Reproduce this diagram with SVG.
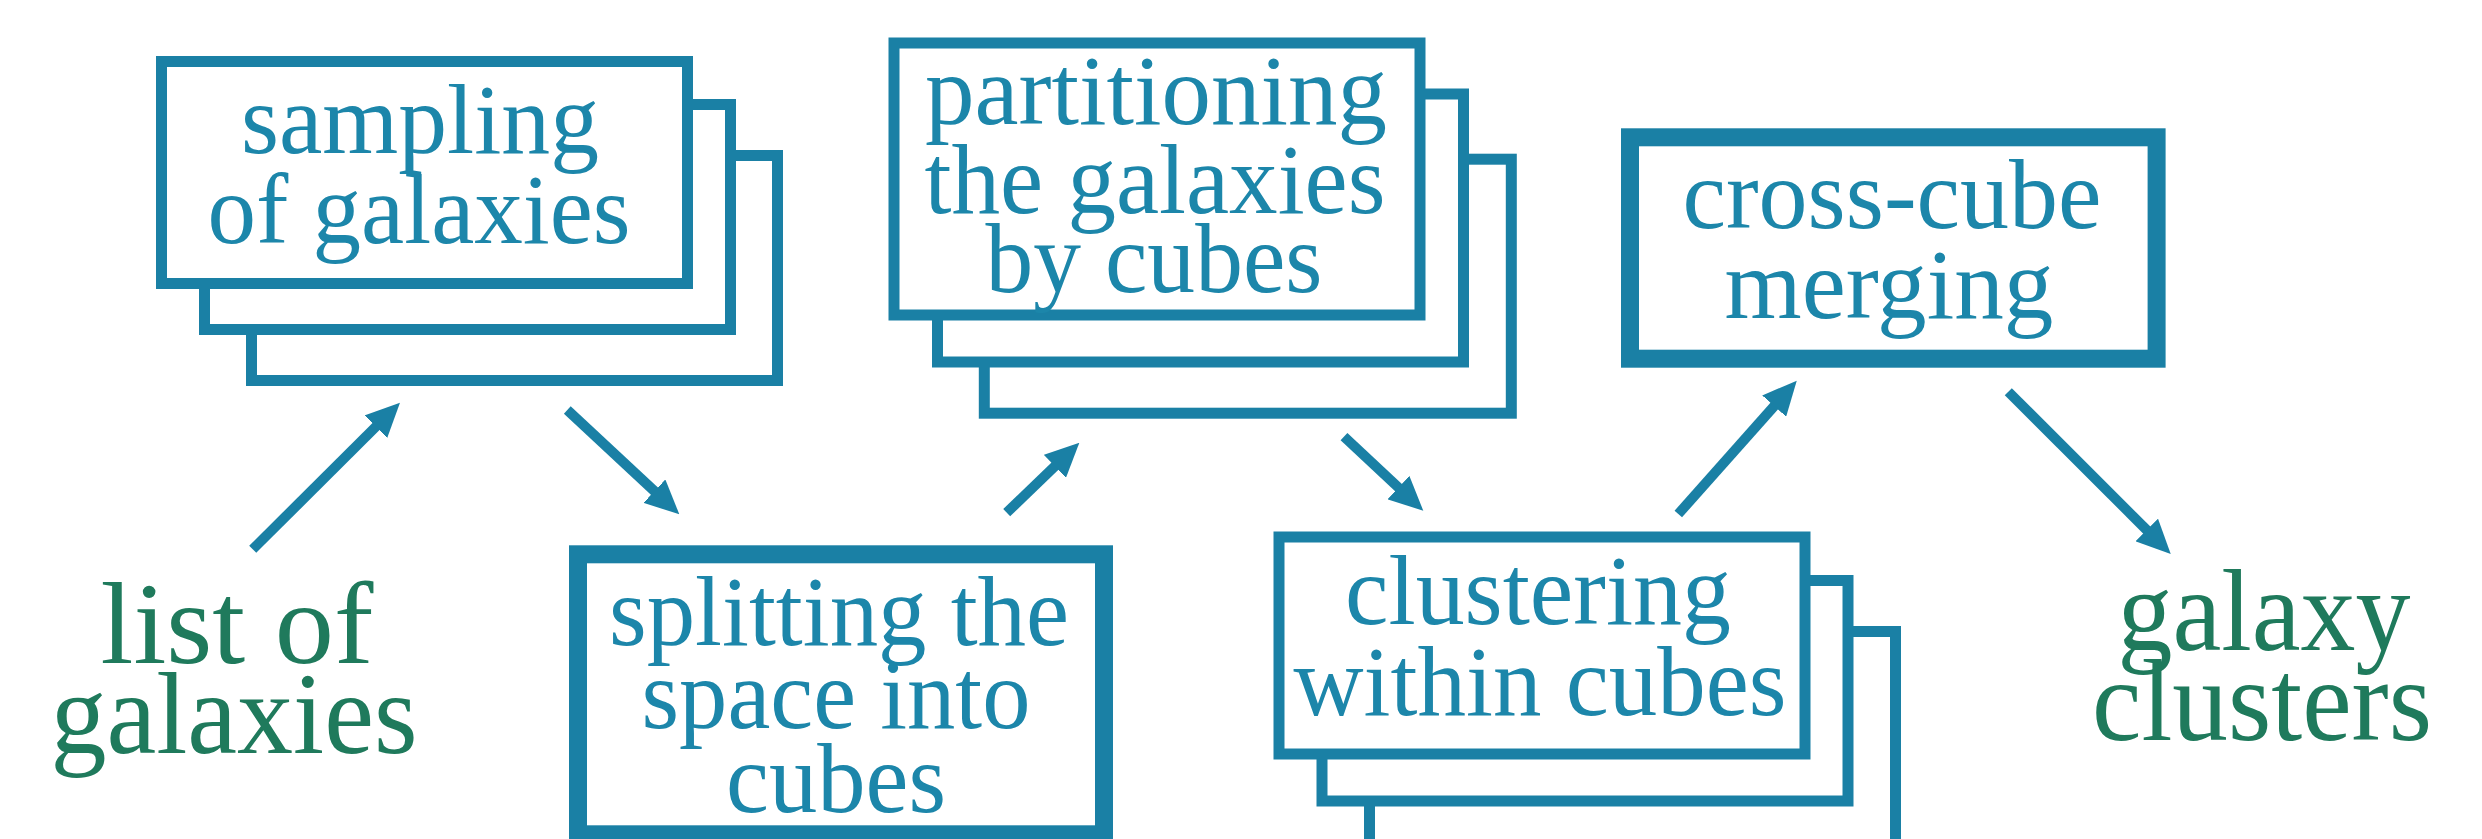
<svg xmlns="http://www.w3.org/2000/svg" width="2482" height="839" viewBox="0 0 2482 839" font-family="Liberation Serif">
<style>
.bx{fill:#fff;stroke:#1a80a5;stroke-width:11}
.bxt{fill:#fff;stroke:#1a80a5;stroke-width:18}
.t{font-size:100px;fill:#1c86aa;text-anchor:middle}
.g{font-size:116px;fill:#1f7a5c;text-anchor:middle}
.ar{stroke:#1a80a5;stroke-width:10;fill:none;marker-end:url(#ah)}
</style>
<defs>
<marker id="ah" markerUnits="userSpaceOnUse" viewBox="0 0 34 32" markerWidth="34" markerHeight="32" refX="2" refY="16" orient="auto">
<path d="M0,0 L34,16 L0,32 z" fill="#1a80a5"/>
</marker>
</defs>
<rect width="2482" height="839" fill="#fff"/>
<g id="list-of-galaxies">
<text class="g" x="237" y="663" textLength="273" lengthAdjust="spacingAndGlyphs">list of</text>
<text class="g" x="234" y="753" textLength="367" lengthAdjust="spacingAndGlyphs">galaxies</text>
</g>
<g id="sampling">
<rect class="bx" x="251.5" y="155.5" width="526" height="225"/>
<rect class="bx" x="204.5" y="104.5" width="526" height="225"/>
<rect class="bx" x="161.5" y="61.5" width="526" height="222"/>
<text class="t" x="420" y="153" textLength="358" lengthAdjust="spacingAndGlyphs">sampling</text>
<text class="t" x="419" y="243" textLength="423" lengthAdjust="spacingAndGlyphs">of galaxies</text>
</g>
<g id="splitting">
<rect class="bxt" x="578" y="554.3" width="526" height="280"/>
<text class="t" x="839" y="645" textLength="460" lengthAdjust="spacingAndGlyphs">splitting the</text>
<text class="t" x="836" y="728" textLength="389" lengthAdjust="spacingAndGlyphs">space into</text>
<text class="t" x="836" y="812" textLength="220" lengthAdjust="spacingAndGlyphs">cubes</text>
</g>
<g id="partitioning">
<rect class="bx" x="984.3" y="159.2" width="527" height="254"/>
<rect class="bx" x="937.5" y="94" width="526" height="268"/>
<rect class="bx" x="894" y="43" width="526" height="272"/>
<text class="t" x="1156" y="124" textLength="462" lengthAdjust="spacingAndGlyphs">partitioning</text>
<text class="t" x="1155" y="213" textLength="461" lengthAdjust="spacingAndGlyphs">the galaxies</text>
<text class="t" x="1154" y="292" textLength="337" lengthAdjust="spacingAndGlyphs">by cubes</text>
</g>
<g id="clustering">
<rect class="bx" x="1369.5" y="631.5" width="526" height="260"/>
<rect class="bx" x="1322" y="580.5" width="526" height="220.5"/>
<rect class="bx" x="1279" y="537" width="526" height="217"/>
<text class="t" x="1538" y="624" textLength="386" lengthAdjust="spacingAndGlyphs">clustering</text>
<text class="t" x="1540" y="715" textLength="493" lengthAdjust="spacingAndGlyphs">within cubes</text>
</g>
<g id="cross-cube">
<rect class="bxt" x="1630" y="137.3" width="526.6" height="221.4"/>
<text class="t" x="1892" y="228" textLength="419" lengthAdjust="spacingAndGlyphs">cross-cube</text>
<text class="t" x="1889" y="318" textLength="329" lengthAdjust="spacingAndGlyphs">merging</text>
</g>
<g id="galaxy-clusters">
<text class="g" x="2264" y="650" textLength="293" lengthAdjust="spacingAndGlyphs">galaxy</text>
<text class="g" x="2262" y="740" textLength="340" lengthAdjust="spacingAndGlyphs">clusters</text>
</g>
<g id="connectors">
<line class="ar" x1="252.7" y1="549.3" x2="377.3" y2="425.3"/>
<line class="ar" x1="567.3" y1="410" x2="655.9" y2="492.5"/>
<line class="ar" x1="1006.7" y1="512.7" x2="1056.3" y2="464.9"/>
<line class="ar" x1="1344" y1="436.7" x2="1399.9" y2="488.9"/>
<line class="ar" x1="1678.3" y1="514" x2="1775.5" y2="404.6"/>
<line class="ar" x1="2008.3" y1="391.7" x2="2148.1" y2="531.4"/>
</g>
</svg>
